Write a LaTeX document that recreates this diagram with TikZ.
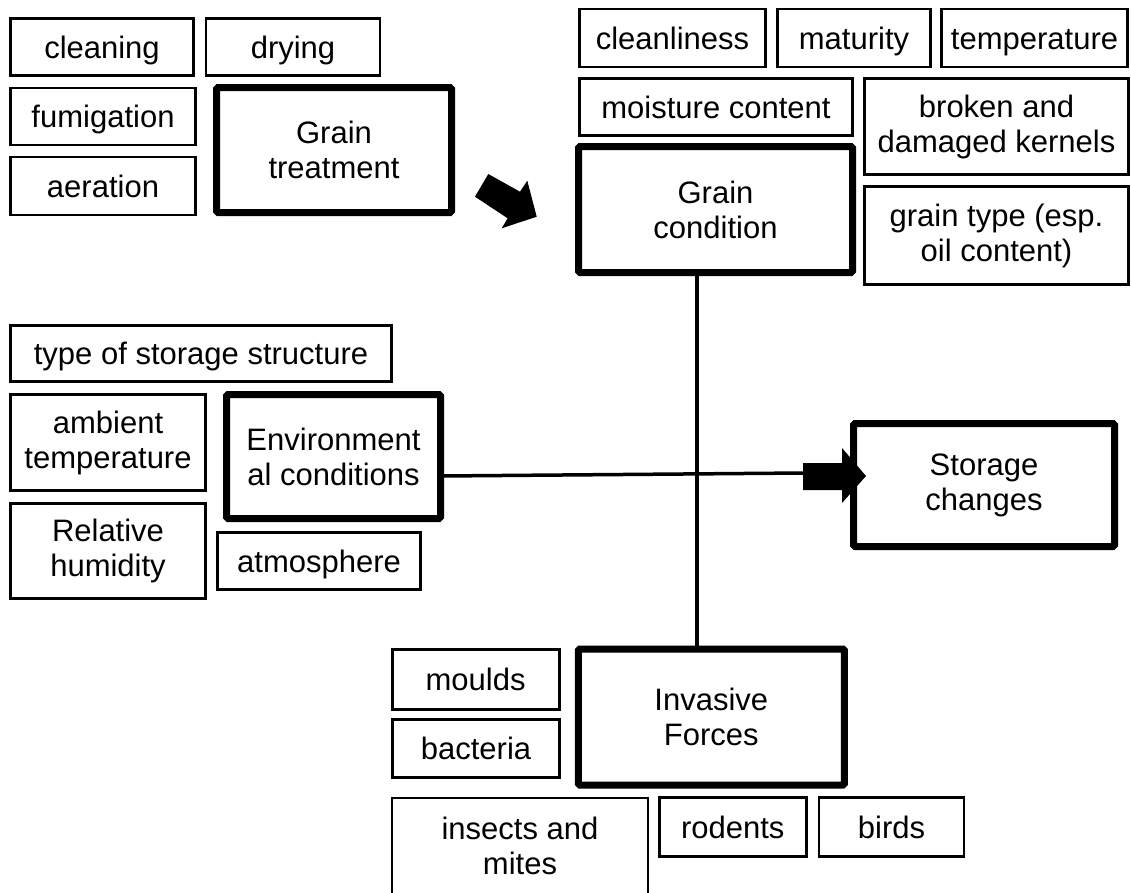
\documentclass[tikz,border=0pt]{standalone}
\usepackage{fontspec}
\setmainfont{Liberation Sans}
\begin{document}
\begin{tikzpicture}[x=1pt,y=-1pt,
  every node/.style={font=\fontsize{31}{35}\selectfont, align=center, inner sep=0pt},
  thinbox/.style={draw, line width=2.8pt, fill=white},
  oneline/.style={text height=24pt, text depth=2pt},
  thickbox/.style={draw, line width=7pt, rounded corners=1.5pt, fill=white},
  conn/.style={line width=3.5pt},
  blockarrow/.style={fill=black}
]
\useasboundingbox (0,0) rectangle (1131,892);

% Grain treatment group
\node[thinbox, oneline, minimum width=183, minimum height=57] (cleaning) at (102,47) {cleaning};
\node[thinbox, oneline, minimum width=174, minimum height=57] (drying) at (293,47) {drying};
\node[thinbox, oneline, minimum width=185, minimum height=57] (fumigation) at (103,116.5) {fumigation};
\node[thinbox, oneline, minimum width=185, minimum height=58] (aeration) at (103,186) {aeration};
\node[thickbox, minimum width=235, minimum height=125] (treatment) at (334,150) {Grain\\treatment};

% Grain condition group
\node[thinbox, oneline, minimum width=186, minimum height=58] (cleanliness) at (672.5,38) {cleanliness};
\node[thinbox, oneline, minimum width=153, minimum height=58] (maturity) at (854,38) {maturity};
\node[thinbox, oneline, minimum width=186, minimum height=58] (temperature) at (1034.5,38) {temperature};
\node[thinbox, oneline, minimum width=273, minimum height=57] (moisture) at (716,107) {moisture content};
\node[thinbox, minimum width=264, minimum height=96] (broken) at (996.5,126.5) {broken and\\damaged kernels};
\node[thinbox, minimum width=264, minimum height=98] (graintype) at (996.5,235.5) {grain type (esp.\\oil content)};

% Environmental group
\node[thinbox, oneline, minimum width=381, minimum height=56] (structure) at (201,353.5) {type of storage structure};
\node[thinbox, minimum width=195, minimum height=96] (ambient) at (108,442.5) {ambient\\temperature};
\node[thinbox, minimum width=195, minimum height=95] (humidity) at (108,551) {Relative\\humidity};
\node[thinbox, oneline, minimum width=203, minimum height=57] (atmosphere) at (319,561) {atmosphere};

% Invasive group
\node[thinbox, oneline, minimum width=167, minimum height=60] (moulds) at (475.6,679.3) {moulds};
\node[thinbox, oneline, minimum width=167, minimum height=58] (bacteria) at (476,748.3) {bacteria};
\node[thinbox, minimum width=256, minimum height=96] (insects) at (520,846) {insects and\\mites};
\node[thinbox, oneline, minimum width=147, minimum height=59] (rodents) at (732.7,827) {rodents};
\node[thinbox, oneline, minimum width=145, minimum height=59] (birds) at (891.5,827) {birds};

% connectors (drawn before main boxes so boxes sit on top)
\coordinate (arrowtail) at (803,473);
\draw[conn] (697,270) -- (697,652);
\draw[conn] (440,476) -- (arrowtail);

% main boxes
\node[thickbox, minimum width=274, minimum height=126] (condition) at (715.5,209.5) {Grain\\condition};
\node[thickbox, minimum width=214, minimum height=124] (env) at (333.5,456.5) {Environment\\al conditions};
\node[thickbox, minimum width=261, minimum height=123] (storage) at (984,485) {Storage\\changes};
\node[thickbox, minimum width=266, minimum height=136] (invasive) at (711.3,717) {Invasive\\Forces};

% block arrow into storage changes
\fill[blockarrow] (arrowtail |- 0,463) -- (842,463) -- (842,448) -- (866,476) -- (842,503) -- (842,490) -- (arrowtail |- 0,490) -- cycle;

% diagonal block arrow
\fill[blockarrow] (488.3,174) -- (520,191.7) -- (527.3,180.7) -- (536.7,216.7) -- (501.7,228.3) -- (507.7,218.3) -- (475,196.7) -- cycle;
\end{tikzpicture}
\end{document}
